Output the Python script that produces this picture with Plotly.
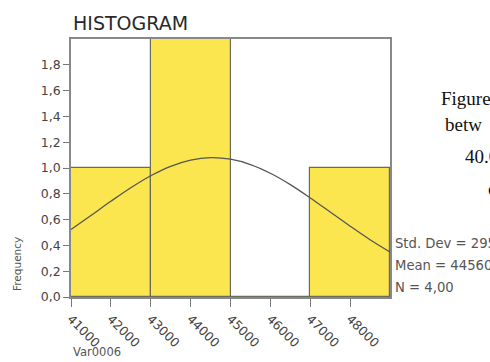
import plotly.graph_objects as go

# Histogram data
bin_starts = [41000, 43000, 45000, 47000]
counts = [1, 2, 0, 1]
bin_width = 2000

# Normal curve points
curve_x = [41000, 41500, 42000, 42500, 43000, 43500, 44000, 44500, 45000,
           45500, 46000, 46500, 47000, 47500, 48000, 48500, 49000]
curve_y = [0.523, 0.632, 0.742, 0.847, 0.940, 1.013, 1.061, 1.080, 1.068,
           1.027, 0.959, 0.871, 0.768, 0.659, 0.549, 0.444, 0.349]

x_ticks = [41000, 42000, 43000, 44000, 45000, 46000, 47000, 48000]
y_ticks = [0.0, 0.2, 0.4, 0.6, 0.8, 1.0, 1.2, 1.4, 1.6, 1.8]

stats_lines = ["Std. Dev = 2955,39", "Mean = 44560", "N = 4,00"]
side_text = ["Figure", "betw", "40.0", "c"]

W, H = 490, 362
L, R, T, B = 71, 100, 39, 65
pw, ph = W - L - R, H - T - B

def px(x):
    return (x - L) / pw

def py(y):
    return (H - B - y) / ph

fig = go.Figure()
fig.add_trace(go.Bar(
    x=bin_starts, y=counts, width=bin_width, offset=0,
    marker=dict(color="#FCE64F", line=dict(color="#6b6b5a", width=1.2)),
    showlegend=False, hoverinfo="skip"))
fig.add_trace(go.Scatter(
    x=curve_x, y=curve_y, mode="lines", line=dict(color="#555555", width=1.3, shape="spline"),
    showlegend=False, hoverinfo="skip"))

fig.update_layout(
    width=W, height=H,
    margin=dict(l=L, r=R, t=T, b=B, pad=0),
    paper_bgcolor="white", plot_bgcolor="white",
    separators=",.",
    bargap=0,
    font=dict(family="DejaVu Sans", color="#333333"),
)
fig.update_xaxes(
    range=[41000, 49000], tickvals=x_ticks, ticktext=[str(v) for v in x_ticks],
    tickangle=45, ticks="outside", ticklen=8, tickcolor="#777777", tickwidth=1.2,
    showline=True, linecolor="#888888", linewidth=1.5, mirror=True,
    showgrid=False, zeroline=False,
    tickfont=dict(size=12.5, color="#444444"))
fig.update_yaxes(
    range=[0, 2.0], tickvals=y_ticks, tickformat=".1f",
    ticks="outside", ticklen=6, tickcolor="#777777", tickwidth=1.2,
    showline=True, linecolor="#888888", linewidth=1.5, mirror=True,
    showgrid=False, zeroline=False,
    tickfont=dict(size=12.5, color="#444444"))

ann = []
ann.append(dict(text="HISTOGRAM", x=px(71), y=py(23), xref="paper", yref="paper",
                xanchor="left", yanchor="middle", showarrow=False,
                font=dict(family="DejaVu Sans", size=19, color="#2a2a2a")))
ann.append(dict(text="Frequency", x=px(17), y=py(264), xref="paper", yref="paper",
                xanchor="center", yanchor="middle", textangle=-90, showarrow=False,
                font=dict(family="DejaVu Sans", size=10.5, color="#555555")))
ann.append(dict(text="Var0006", x=px(71), y=py(352), xref="paper", yref="paper",
                xanchor="left", yanchor="middle", showarrow=False,
                font=dict(family="DejaVu Sans", size=11.5, color="#555555")))
for i, t in enumerate(stats_lines):
    ann.append(dict(text=t, x=px(393), y=py(243 + 22 * i), xref="paper", yref="paper",
                    xanchor="left", yanchor="middle", showarrow=False,
                    font=dict(family="DejaVu Sans", size=13.2, color="#555555")))
side_x = [439, 443, 463, 486]
side_y = [98, 124, 156, 188]
for t, sx, sy in zip(side_text, side_x, side_y):
    ann.append(dict(text=t, x=px(sx), y=py(sy), xref="paper", yref="paper",
                    xanchor="left", yanchor="middle", showarrow=False,
                    font=dict(family="Liberation Serif", size=19, color="#111111")))
fig.update_layout(annotations=ann)

fig.write_html("out.html", config={"displayModeBar": False},
               post_script="document.body.style.margin='0';document.body.style.overflow='hidden';")
